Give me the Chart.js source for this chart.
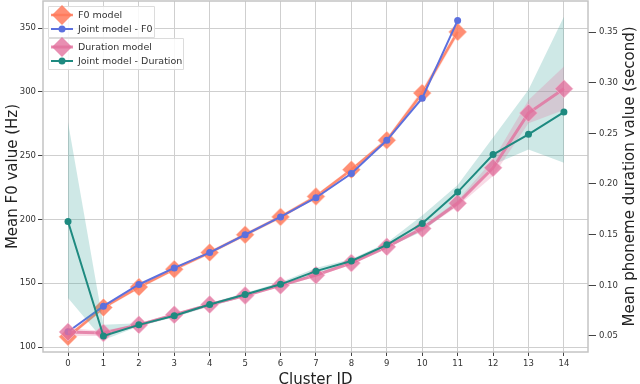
<!DOCTYPE html>
<html>
<head>
<meta charset="utf-8">
<script src="https://cdn.jsdelivr.net/npm/chart.js@4/dist/chart.umd.min.js"></script>
<style>
html,body{margin:0;padding:0;background:#fff;}
#c{display:block;}
</style>
</head>
<body>
<canvas id="c" width="640" height="384"></canvas>
<script>
// ---- data ----
const clusters = [0,1,2,3,4,5,6,7,8,9,10,11,12,13,14];
const f0Clusters = [0,1,2,3,4,5,6,7,8,9,10,11];
const f0Model = [108, 131, 147, 161, 174, 188, 202, 218, 239, 262, 299, 347];
const f0ModelUpper = [110, 132.5, 148.5, 162.5, 175.5, 189.5, 203.5, 219.5, 240.5, 264, 302, 350];
const f0ModelLower = [106, 129.5, 145.5, 159.5, 172.5, 186.5, 200.5, 216.5, 237.5, 260, 296, 344];
const jointF0 = [112, 132, 149, 162, 174, 188, 202, 217, 236, 262, 295, 356];
const durModel = [0.054, 0.053, 0.061, 0.071, 0.081, 0.090, 0.100, 0.110, 0.122, 0.138, 0.156, 0.181, 0.216, 0.270, 0.294];
const durModelUpper = [0.058, 0.055, 0.0625, 0.0725, 0.0825, 0.0915, 0.1015, 0.1115, 0.1235, 0.140, 0.158, 0.184, 0.224, 0.283, 0.316];
const durModelLower = [0.050, 0.050, 0.0595, 0.0695, 0.0795, 0.0885, 0.0985, 0.1085, 0.1205, 0.136, 0.154, 0.178, 0.208, 0.260, 0.273];
const jointDur = [0.163, 0.050, 0.061, 0.070, 0.081, 0.091, 0.101, 0.114, 0.124, 0.140, 0.161, 0.192, 0.229, 0.249, 0.271];
const jointDurUpper = [0.261, 0.061, 0.0625, 0.0715, 0.0825, 0.0925, 0.103, 0.117, 0.126, 0.142, 0.169, 0.199, 0.246, 0.293, 0.365];
const jointDurLower = [0.0875, 0.046, 0.0595, 0.0685, 0.079, 0.089, 0.0995, 0.111, 0.122, 0.137, 0.153, 0.180, 0.219, 0.234, 0.221];
const f0Ticks = [100, 150, 200, 250, 300, 350];
const durTicks = [0.05, 0.10, 0.15, 0.20, 0.25, 0.30, 0.35];
const xTitle = 'Cluster ID';
const yLeftTitle = 'Mean F0 value (Hz)';
const yRightTitle = 'Mean phoneme duration value (second)';
const legendGroups = [
  ['F0 model', 'Joint model - F0'],
  ['Duration model', 'Joint model - Duration']
];

// ---- styles ----
const C_OR = 'rgba(255,122,92,0.85)';
const C_OR_F = 'rgba(255,122,92,0.22)';
const C_BL = 'rgb(92,112,222)';
const C_PK = 'rgba(226,112,156,0.78)';
const C_PK_F = 'rgba(226,112,156,0.25)';
const C_TL = 'rgb(30,138,128)';
const C_TL_F = 'rgba(60,165,155,0.25)';
const FONT = "'DejaVu Sans', sans-serif";

const pts = (xs, ys) => ys.map((v, i) => ({x: xs[i], y: v}));

const band = (xs, ys, color, axis, order, fill) => ({
  data: pts(xs, ys), yAxisID: axis, order: order,
  borderWidth: 0, pointRadius: 0, backgroundColor: color, borderColor: 'rgba(0,0,0,0)',
  fill: fill, tension: 0
});

const datasets = [
  band(f0Clusters, f0ModelLower, C_OR_F, 'yL', 20, false),
  band(f0Clusters, f0ModelUpper, C_OR_F, 'yL', 19, '-1'),
  {label: 'F0 model', data: pts(f0Clusters, f0Model), yAxisID: 'yL', order: 8,
   borderColor: C_OR, borderWidth: 2.5, pointStyle: 'rectRot', pointRadius: 9,
   pointBackgroundColor: C_OR, pointBorderColor: 'rgba(255,200,185,0.6)', pointBorderWidth: 1, fill: false},
  {label: 'Joint model - F0', data: pts(f0Clusters, jointF0), yAxisID: 'yL', order: 7,
   borderColor: C_BL, borderWidth: 2, pointStyle: 'circle', pointRadius: 3.5,
   pointBackgroundColor: C_BL, pointBorderColor: C_BL, pointBorderWidth: 0, fill: false},
  band(clusters, jointDurLower, C_TL_F, 'yR', 6, false),
  band(clusters, jointDurUpper, C_TL_F, 'yR', 5, '-1'),
  band(clusters, durModelLower, C_PK_F, 'yR', 4, false),
  band(clusters, durModelUpper, C_PK_F, 'yR', 3, '-1'),
  {label: 'Duration model', data: pts(clusters, durModel), yAxisID: 'yR', order: 2,
   borderColor: C_PK, borderWidth: 3, pointStyle: 'rectRot', pointRadius: 9,
   pointBackgroundColor: C_PK, pointBorderColor: 'rgba(245,190,210,0.6)', pointBorderWidth: 1, fill: false},
  {label: 'Joint model - Duration', data: pts(clusters, jointDur), yAxisID: 'yR', order: 1,
   borderColor: C_TL, borderWidth: 2, pointStyle: 'circle', pointRadius: 3.5,
   pointBackgroundColor: C_TL, pointBorderColor: C_TL, pointBorderWidth: 0, fill: false}
];

const framePlugin = {
  id: 'frame',
  beforeDatasetsDraw(chart) {
    const a = chart.chartArea, ctx = chart.ctx;
    ctx.save();
    ctx.strokeStyle = '#c4c4c4';
    ctx.lineWidth = 1.5;
    ctx.strokeRect(a.left, a.top, a.right - a.left, a.bottom - a.top);
    ctx.restore();
  }
};

function drawDiamond(ctx, x, y, r, color) {
  ctx.beginPath();
  ctx.moveTo(x - r, y); ctx.lineTo(x, y - r); ctx.lineTo(x + r, y); ctx.lineTo(x, y + r);
  ctx.closePath();
  ctx.fillStyle = color; ctx.fill();
}
function drawDot(ctx, x, y, r, color) {
  ctx.beginPath(); ctx.arc(x, y, r, 0, Math.PI * 2); ctx.fillStyle = color; ctx.fill();
}

const annotPlugin = {
  id: 'annot',
  afterDraw(chart) {
    const ctx = chart.ctx, a = chart.chartArea;
    ctx.save();
    ctx.fillStyle = '#222';
    ctx.font = '15px ' + FONT;
    ctx.textAlign = 'center'; ctx.textBaseline = 'middle';
    ctx.fillText(xTitle, (a.left + a.right) / 2, 380);
    ctx.save();
    ctx.translate(13, (a.top + a.bottom) / 2);
    ctx.rotate(-Math.PI / 2);
    ctx.fillText(yLeftTitle, 0, 0);
    ctx.restore();
    ctx.save();
    ctx.translate(630, (a.top + a.bottom) / 2);
    ctx.rotate(-Math.PI / 2);
    ctx.fillText(yRightTitle, 0, 0);
    ctx.restore();

    const boxes = [
      {x: 48, y: 6, w: 106, h: 31, rows: [15, 29]},
      {x: 48, y: 38, w: 135, h: 31, rows: [47, 61]}
    ];
    const styles = [
      [{c: C_OR, type: 'd', lw: 2.5}, {c: C_BL, type: 'o', lw: 2}],
      [{c: C_PK, type: 'd', lw: 3}, {c: C_TL, type: 'o', lw: 2}]
    ];
    boxes.forEach((b, gi) => {
      ctx.fillStyle = 'rgba(255,255,255,0.85)';
      ctx.strokeStyle = '#dcdcdc';
      ctx.lineWidth = 1;
      ctx.beginPath();
      ctx.rect(b.x + 0.5, b.y + 0.5, b.w, b.h);
      ctx.fill(); ctx.stroke();
      b.rows.forEach((ry, ri) => {
        const s = styles[gi][ri];
        ctx.strokeStyle = s.c; ctx.lineWidth = s.lw;
        ctx.beginPath(); ctx.moveTo(51, ry); ctx.lineTo(73, ry); ctx.stroke();
        if (s.type === 'd') drawDiamond(ctx, 62, ry, 10, s.c);
        else drawDot(ctx, 62, ry, 3.5, s.c);
        ctx.fillStyle = '#333';
        ctx.font = '9.5px ' + FONT;
        ctx.textAlign = 'left'; ctx.textBaseline = 'middle';
        ctx.fillText(legendGroups[gi][ri], 78, ry + 0.5);
      });
    });
    ctx.restore();
  }
};

const tickFont = {family: FONT, size: 8.5};
const noPad = (s) => { s.paddingTop = 0; s.paddingBottom = 0; s.paddingLeft = 0; s.paddingRight = 0; };

new Chart(document.getElementById('c'), {
  type: 'line',
  data: {datasets: datasets},
  options: {
    responsive: false,
    animation: false,
    devicePixelRatio: 1,
    layout: {autoPadding: false, padding: {top: 1, left: 0, right: 0, bottom: 0}},
    plugins: {legend: {display: false}, tooltip: {enabled: false}},
    elements: {line: {tension: 0}},
    scales: {
      x: {
        type: 'linear', position: 'bottom', min: -0.706, max: 14.68,
        afterFit(s) { s.height = 32; noPad(s); },
        afterBuildTicks(s) { s.ticks = clusters.map(v => ({value: v})); },
        ticks: {font: tickFont, color: '#333', padding: 3, maxRotation: 0, autoSkip: false,
                callback: v => String(v)},
        grid: {color: '#cfcfcf', lineWidth: 1, tickLength: 4, tickColor: '#444'},
        border: {display: false}
      },
      yL: {
        type: 'linear', position: 'left', min: 96.1, max: 371.2,
        afterFit(s) { s.width = 43; noPad(s); },
        afterBuildTicks(s) { s.ticks = f0Ticks.map(v => ({value: v})); },
        ticks: {font: tickFont, color: '#333', padding: 2, callback: v => String(v)},
        grid: {color: '#cfcfcf', lineWidth: 1, tickLength: 5, tickColor: '#444'},
        border: {display: false}
      },
      yR: {
        type: 'linear', position: 'right', min: 0.0342, max: 0.3806,
        afterFit(s) { s.width = 52; noPad(s); },
        afterBuildTicks(s) { s.ticks = durTicks.map(v => ({value: v})); },
        ticks: {font: tickFont, color: '#333', padding: 3, callback: v => v.toFixed(2)},
        grid: {drawOnChartArea: false, tickLength: 8, tickColor: '#444'},
        border: {display: false}
      }
    }
  },
  plugins: [framePlugin, annotPlugin]
});
</script>
</body>
</html>
